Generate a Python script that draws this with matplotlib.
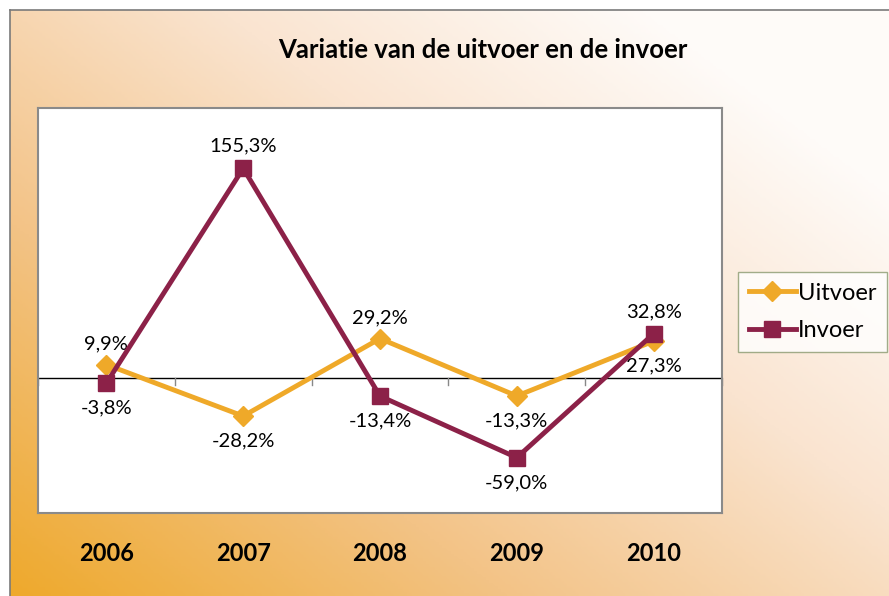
import matplotlib.pyplot as plt
import numpy as np
from matplotlib.colors import LinearSegmentedColormap
from matplotlib.lines import Line2D

years = ["2006", "2007", "2008", "2009", "2010"]
uitvoer = [9.9, -28.2, 29.2, -13.3, 27.3]
invoer = [-3.8, 155.3, -13.4, -59.0, 32.8]
uitvoer_pos = ["above", "below", "above", "below", "below"]
invoer_pos = ["below", "above", "below", "below", "above"]

orange = "#EFA929"
maroon = "#8C2148"

plt.rcParams["font.family"] = ["Lato", "DejaVu Sans"]

fig = plt.figure(figsize=(8.89, 5.96), dpi=100)

# background gradient (orange bottom-left -> white top-right)
bg = fig.add_axes([0.0113, 0, 1 - 0.0113, 1 - 0.0168], zorder=-10)
gx, gy = np.meshgrid(np.linspace(0, 1, 300), np.linspace(1, 0, 200))
s = np.clip(0.62 * gx + 0.55 * gy, 0, 1)
cmap = LinearSegmentedColormap.from_list("bg", ["#EEA92C", "#F3C386", "#FAE4D0", "#FFFFFF"], N=256)
bg.imshow(s, cmap=cmap, aspect="auto", extent=[0, 1, 0, 1], vmin=0, vmax=1.05)
bg.set_xticks([])
bg.set_yticks([])
for side in ["right", "bottom"]:
    bg.spines[side].set_visible(False)
for side in ["left", "top"]:
    bg.spines[side].set_color("#7a7a7a")
    bg.spines[side].set_linewidth(1.2)

W, H = 889, 596
ax = fig.add_axes([38 / W, 1 - 513 / H, (722 - 38) / W, (513 - 108) / H])
ax.set_facecolor("white")
for sp in ax.spines.values():
    sp.set_color("#8a8a8a")
    sp.set_linewidth(1.5)

x = np.arange(len(years))
ax.plot(x, uitvoer, color=orange, lw=3.5, marker="D", ms=10, zorder=3)
ax.plot(x, invoer, color=maroon, lw=3.5, marker="s", ms=12, zorder=4)

ax.set_xlim(-0.5, len(years) - 0.5)
ax.set_ylim(-100, 200)
ax.axhline(0, color="black", lw=1, zorder=2)
for b in np.arange(len(years) + 1) - 0.5:
    ax.plot([b, b], [0, -5], color="#888888", lw=1, zorder=2, clip_on=False)

ax.set_yticks([])
ax.set_xticks(x)
ax.set_xticklabels(years, fontsize=17, fontweight="bold")
ax.tick_params(axis="x", length=0, pad=21)


def fmt(v):
    return f"{v:.1f}%".replace(".", ",")


for xi, v, p in zip(x, uitvoer, uitvoer_pos):
    off = 15 if p == "above" else -18
    ax.annotate(fmt(v), (xi, v), xytext=(0, off), textcoords="offset points",
                ha="center", va="center", fontsize=14.5)
for xi, v, p in zip(x, invoer, invoer_pos):
    off = 16 if p == "above" else -18
    ax.annotate(fmt(v), (xi, v), xytext=(0, off), textcoords="offset points",
                ha="center", va="center", fontsize=14.5)

fig.text(483 / W, 1 - 50 / H, "Variatie van de uitvoer en de invoer",
         ha="center", va="center", fontsize=18.5, fontweight="bold")

handles = [
    Line2D([], [], color=orange, lw=3.5, marker="D", ms=10),
    Line2D([], [], color=maroon, lw=3.5, marker="s", ms=12),
]
leg = fig.legend(handles, ["Uitvoer", "Invoer"], loc="center left",
                 bbox_to_anchor=(738 / W, 1 - 312 / H), fontsize=17,
                 frameon=True, fancybox=False, handlelength=2.0, handletextpad=0.1,
                 borderpad=0.45, labelspacing=0.7, borderaxespad=0)
leg.get_frame().set_edgecolor("#8a9a70")
leg.get_frame().set_facecolor("white")
leg.get_frame().set_linewidth(1)

fig.savefig("out.png", dpi=100)
